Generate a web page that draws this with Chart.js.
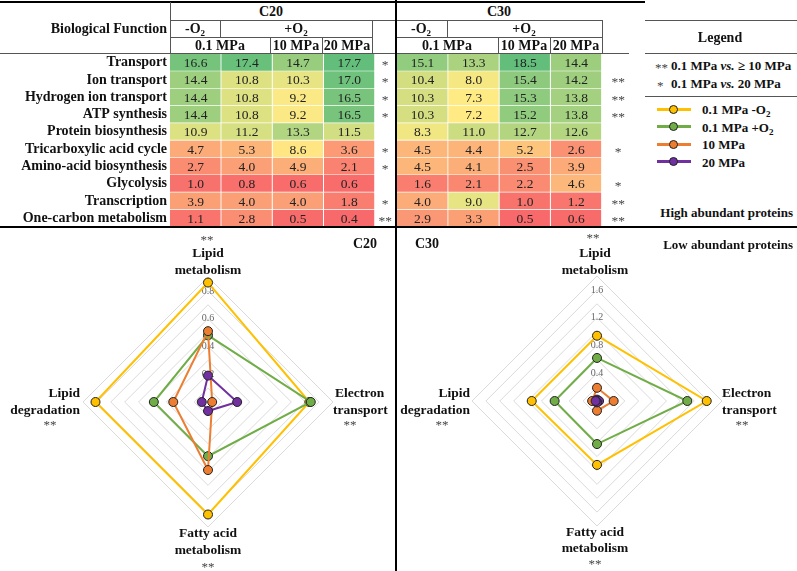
<!DOCTYPE html>
<html><head><meta charset="utf-8">
<script src="https://cdn.jsdelivr.net/npm/chart.js@4.4.1/dist/chart.umd.min.js"></script>
<style>
body{margin:0;background:#fff;}
#wrap{position:relative;width:797px;height:571px;overflow:hidden;font-family:"Liberation Serif","Times New Roman",serif;color:#111;}
.t{position:absolute;white-space:nowrap;line-height:1;font-weight:bold;font-size:13px;}
.h{font-size:14px;}
.n{font-weight:normal;color:#444;}
.c{transform:translate(-50%,-50%);}
.r{transform:translate(-100%,-50%);}
.l{transform:translate(0,-50%);}
.sb{font-size:9px;position:relative;top:3px;}
.hl{position:absolute;height:1px;background:#555;}
.vl{position:absolute;width:1px;background:#555;}
.hk{position:absolute;height:2px;background:#000;}
.vk{position:absolute;width:2px;background:#000;}
canvas{position:absolute;}
.lg{position:absolute;width:34px;height:3px;}
.lgd{position:absolute;width:7px;height:7px;border-radius:50%;border:1px solid #222;}
</style>
</head><body>
<div id="wrap">
  <canvas id="tbl" width="631" height="173" style="left:0;top:54px;"></canvas>
  <canvas id="r20" width="300" height="300" style="left:58px;top:252px;"></canvas>
  <canvas id="r30" width="300" height="300" style="left:447px;top:251px;"></canvas>

  <!-- thick frame lines -->
  <div class="hk" style="left:0;top:1px;width:645px;"></div>
  <div class="hk" style="left:0;top:226px;width:797px;"></div>
  <div class="vk" style="left:395px;top:0;height:571px;"></div>

  <!-- header thin lines C20 -->
  <div class="vl" style="left:170px;top:2px;height:52px;"></div>
  <div class="hl" style="left:170px;top:20px;width:225px;"></div>
  <div class="hl" style="left:170px;top:37px;width:202px;"></div>
  <div class="hl" style="left:0;top:53px;width:395px;"></div>
  <div class="vl" style="left:220px;top:20px;height:17px;"></div>
  <div class="vl" style="left:270px;top:37px;height:16px;"></div>
  <div class="vl" style="left:322px;top:37px;height:16px;"></div>
  <div class="vl" style="left:372px;top:20px;height:34px;"></div>
  <!-- header thin lines C30 -->
  <div class="hl" style="left:397px;top:20px;width:206px;"></div>
  <div class="hl" style="left:397px;top:37px;width:206px;"></div>
  <div class="hl" style="left:397px;top:53px;width:232px;"></div>
  <div class="vl" style="left:447px;top:20px;height:17px;"></div>
  <div class="vl" style="left:498px;top:37px;height:16px;"></div>
  <div class="vl" style="left:550px;top:37px;height:16px;"></div>
  <div class="vl" style="left:602px;top:20px;height:34px;"></div>
  <!-- legend lines -->
  <div class="hl" style="left:645px;top:20px;width:152px;"></div>
  <div class="hl" style="left:645px;top:53px;width:152px;"></div>
  <div class="hl" style="left:645px;top:96px;width:152px;"></div>

  <!-- header texts -->
  <div class="t r h" style="left:167px;top:29px;">Biological Function</div>
  <div class="t c h" style="left:271px;top:12px;">C20</div>
  <div class="t c h" style="left:195px;top:29px;">-O<span class="sb">2</span></div>
  <div class="t c h" style="left:296px;top:29px;">+O<span class="sb">2</span></div>
  <div class="t c h" style="left:220px;top:46px;">0.1 MPa</div>
  <div class="t c h" style="left:296px;top:46px;">10 MPa</div>
  <div class="t c h" style="left:347px;top:46px;">20 MPa</div>
  <div class="t c h" style="left:499px;top:12px;">C30</div>
  <div class="t c h" style="left:421px;top:29px;">-O<span class="sb">2</span></div>
  <div class="t c h" style="left:524px;top:29px;">+O<span class="sb">2</span></div>
  <div class="t c h" style="left:447px;top:46px;">0.1 MPa</div>
  <div class="t c h" style="left:524px;top:46px;">10 MPa</div>
  <div class="t c h" style="left:576px;top:46px;">20 MPa</div>

  <!-- legend -->
  <div class="t c h" style="left:720px;top:38px;">Legend</div>
  <div class="t l n" style="left:655px;top:67px;">**</div>
  <div class="t l" style="left:671px;top:65px;">0.1 MPa <i>vs.</i> ≥ 10 MPa</div>
  <div class="t l n" style="left:657px;top:85px;">*</div>
  <div class="t l" style="left:671px;top:83px;">0.1 MPa <i>vs.</i> 20 MPa</div>
  <div id="legendItems"></div>

  <div class="t r" style="left:793px;top:212px;">High abundant proteins</div>
  <div class="t r" style="left:793px;top:244px;">Low abundant proteins</div>
  <div class="t c h" style="left:365px;top:244px;">C20</div>
  <div class="t c h" style="left:427px;top:244px;">C30</div>

  <!-- radar axis labels C20 -->
  <div class="t c n" style="left:207px;top:239px;">**</div>
  <div class="t c" style="left:208px;top:253px;font-size:13.5px;">Lipid</div>
  <div class="t c" style="left:208px;top:270px;font-size:13.5px;">metabolism</div>
  <div class="t r" style="left:80px;top:393px;font-size:13.5px;">Lipid</div>
  <div class="t r" style="left:80px;top:410px;font-size:13.5px;">degradation</div>
  <div class="t c n" style="left:50px;top:424px;">**</div>
  <div class="t l" style="left:335px;top:393px;font-size:13.5px;">Electron</div>
  <div class="t l" style="left:333px;top:410px;font-size:13.5px;">transport</div>
  <div class="t c n" style="left:350px;top:424px;">**</div>
  <div class="t c" style="left:208px;top:533px;font-size:13.5px;">Fatty acid</div>
  <div class="t c" style="left:208px;top:550px;font-size:13.5px;">metabolism</div>
  <div class="t c n" style="left:208px;top:566px;">**</div>
  <!-- radar axis labels C30 -->
  <div class="t c n" style="left:593px;top:237px;">**</div>
  <div class="t c" style="left:595px;top:253px;font-size:13.5px;">Lipid</div>
  <div class="t c" style="left:595px;top:270px;font-size:13.5px;">metabolism</div>
  <div class="t r" style="left:470px;top:393px;font-size:13.5px;">Lipid</div>
  <div class="t r" style="left:470px;top:410px;font-size:13.5px;">degradation</div>
  <div class="t c n" style="left:442px;top:424px;">**</div>
  <div class="t l" style="left:722px;top:393px;font-size:13.5px;">Electron</div>
  <div class="t l" style="left:722px;top:410px;font-size:13.5px;">transport</div>
  <div class="t c n" style="left:742px;top:424px;">**</div>
  <div class="t c" style="left:595px;top:532px;font-size:13.5px;">Fatty acid</div>
  <div class="t c" style="left:595px;top:548px;font-size:13.5px;">metabolism</div>
  <div class="t c n" style="left:595px;top:563px;">**</div>
</div>
<script>
// ---------- DATA ----------
const functions = ['Transport','Ion transport','Hydrogen ion transport','ATP synthesis','Protein biosynthesis',
  'Tricarboxylic acid cycle','Amino-acid biosynthesis','Glycolysis','Transcription','One-carbon metabolism'];
const c20_01_noO2 = [16.6,14.4,14.4,14.4,10.9,4.7,2.7,1.0,3.9,1.1];
const c20_01_O2   = [17.4,10.8,10.8,10.8,11.2,5.3,4.0,0.8,4.0,2.8];
const c20_10      = [14.7,10.3,9.2,9.2,13.3,8.6,4.9,0.6,4.0,0.5];
const c20_20      = [17.7,17.0,16.5,16.5,11.5,3.6,2.1,0.6,1.8,0.4];
const c20_sig     = ['*','*','*','*','','*','*','','*','**'];
const c30_01_noO2 = [15.1,10.4,10.3,10.3,8.3,4.5,4.5,1.6,4.0,2.9];
const c30_01_O2   = [13.3,8.0,7.3,7.2,11.0,4.4,4.1,2.1,9.0,3.3];
const c30_10      = [18.5,15.4,15.3,15.2,12.7,5.2,2.5,2.2,1.0,0.5];
const c30_20      = [14.4,14.2,13.8,13.8,12.6,2.6,3.9,4.6,1.2,0.6];
const c30_sig     = ['','**','**','**','','*','','*','**','**'];

const seriesNames = ['0.1 MPa -O2','0.1 MPa +O2','10 MPa','20 MPa'];
const radarAxes = ['Lipid metabolism','Electron transport','Fatty acid metabolism','Lipid degradation'];
const c20_r_01_noO2 = [0.86,0.73,0.81,0.81];
const c20_r_01_O2   = [0.48,0.74,0.39,0.39];
const c20_r_10      = [0.51,0.03,0.49,0.25];
const c20_r_20      = [0.19,0.21,0.065,0.045];
const c30_r_01_noO2 = [0.94,1.58,0.92,0.94];
const c30_r_01_O2   = [0.62,1.30,0.62,0.61];
const c30_r_10      = [0.19,0.24,0.14,0.07];
const c30_r_20      = [0.02,0.03,0.02,0.02];
const c20_tickLabels = [0.2,0.4,0.6,0.8];
const c30_tickLabels = [0.4,0.8,1.2,1.6];

// ---------- STYLE ----------
const FONT = '"Liberation Serif","Times New Roman",serif';
const seriesColors = ['#FFC000','#70AD47','#ED7D31','#7030A0'];

// legend (html)
const li = document.getElementById('legendItems');
const legendY = [109,126.5,144,161.5];
seriesNames.forEach((n,i)=>{
  const y = legendY[i];
  li.insertAdjacentHTML('beforeend',
   `<div class="lg" style="left:657px;top:${y-1.5}px;background:${seriesColors[i]}"></div>
    <div class="lgd" style="left:669px;top:${y-4.5}px;background:${seriesColors[i]}"></div>
    <div class="t l" style="left:702px;top:${y}px;">${n.replace('O2','O<span class="sb">2</span>')}</div>`);
});

// heat colour scale (3-colour: red - yellow(median) - green)
function stats(arrs){
  const all = [].concat(...arrs).sort((a,b)=>a-b);
  const m = all.length;
  const med = m%2 ? all[(m-1)/2] : (all[m/2-1]+all[m/2])/2;
  return {min:all[0], mid:med, max:all[m-1]};
}
const RED=[248,105,107], YEL=[255,235,132], GRN=[99,190,123];
function heat(v,s){
  let a,b,t;
  if(v<=s.mid){a=RED;b=YEL;t=(v-s.min)/(s.mid-s.min);} else {a=YEL;b=GRN;t=(v-s.mid)/(s.max-s.mid);}
  t=Math.max(0,Math.min(1,t));
  return `rgb(${a.map((x,k)=>Math.round(x+(b[k]-x)*t)).join(',')})`;
}
const s20 = stats([c20_01_noO2,c20_01_O2,c20_10,c20_20]);
const s30 = stats([c30_01_noO2,c30_01_O2,c30_10,c30_20]);
const C30_OFFSET = 4.43;
const columns = [
  {v:c20_01_noO2,x:0,s:s20},{v:c20_01_O2,x:1,s:s20},{v:c20_10,x:2,s:s20},{v:c20_20,x:3,s:s20},
  {v:c30_01_noO2,x:C30_OFFSET,s:s30},{v:c30_01_O2,x:C30_OFFSET+1,s:s30},{v:c30_10,x:C30_OFFSET+2,s:s30},{v:c30_20,x:C30_OFFSET+3,s:s30}
];

const cellText = {
  id:'cellText',
  afterDatasetsDraw(chart){
    const ctx=chart.ctx; ctx.save();
    ctx.font='13.5px '+FONT; ctx.fillStyle='#222'; ctx.textAlign='center'; ctx.textBaseline='middle';
    chart.data.datasets.forEach((ds,i)=>{
      chart.getDatasetMeta(i).data.forEach((el,j)=>{
        ctx.fillText(ds.values[j].toFixed(1),(el.x+el.base)/2,el.y+1);
      });
    });
    const xs=chart.scales.x, ys=chart.scales.y;
    ctx.fillStyle='#444';
    c20_sig.forEach((s,j)=>ctx.fillText(s,xs.getPixelForValue(4.2),ys.getPixelForValue(j)+3));
    c30_sig.forEach((s,j)=>ctx.fillText(s,xs.getPixelForValue(8.75),ys.getPixelForValue(j)+3));
    ctx.restore();
  }
};

new Chart(document.getElementById('tbl'),{
  type:'bar',
  data:{labels:functions,datasets:columns.map(c=>({
    values:c.v,
    data:c.v.map(()=>[c.x,c.x+1]),
    backgroundColor:c.v.map(v=>heat(v,c.s)),
    borderColor:'#ffffff',
    borderWidth:{top:0,left:0,right:1,bottom:1},
    borderSkipped:false,
    barPercentage:1,categoryPercentage:1,grouped:false
  }))},
  options:{
    indexAxis:'y',responsive:false,animation:false,
    layout:{padding:0},
    plugins:{legend:{display:false},tooltip:{enabled:false}},
    scales:{
      x:{type:'linear',min:0,max:9,display:false},
      y:{type:'category',grid:{display:false,drawTicks:false},border:{display:false},
         ticks:{autoSkip:false,padding:3,color:'#111',font:{family:FONT,size:14,weight:'bold'}},
         afterFit(s){s.width=170;s.paddingTop=0;s.paddingBottom=0;}}
    }
  },
  plugins:[cellText]
});

function radar(id,sets,max,step,tickLabels){
  new Chart(document.getElementById(id),{
    type:'radar',
    data:{labels:radarAxes,datasets:sets.map((d,i)=>({
      label:seriesNames[i],data:d,order:4-i,
      borderColor:seriesColors[i],backgroundColor:seriesColors[i],
      pointBackgroundColor:seriesColors[i],pointBorderColor:'#222',pointBorderWidth:1,
      pointRadius:4.5,borderWidth:2,fill:false
    }))},
    options:{
      responsive:false,animation:false,
      layout:{padding:18},
      plugins:{legend:{display:false},tooltip:{enabled:false}},
      elements:{line:{tension:0}},
      scales:{r:{min:0,max:max,
        angleLines:{display:false},
        grid:{color:'#dadada',lineWidth:1},
        pointLabels:{display:false},
        ticks:{stepSize:step,showLabelBackdrop:false,color:'#666',font:{family:FONT,size:10},
          callback:(v)=>tickLabels.some(t=>Math.abs(t-v)<1e-6)?v.toFixed(1):''}
      }}
    }
  });
}
radar('r20',[c20_r_01_noO2,c20_r_01_O2,c20_r_10,c20_r_20],0.9,0.1,c20_tickLabels);
radar('r30',[c30_r_01_noO2,c30_r_01_O2,c30_r_10,c30_r_20],1.8,0.2,c30_tickLabels);
</script>
</body></html>
